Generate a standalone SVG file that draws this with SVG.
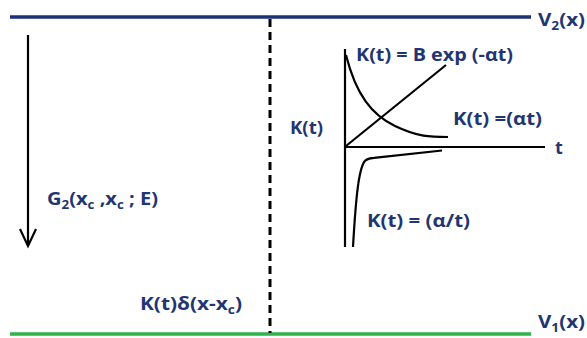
<svg xmlns="http://www.w3.org/2000/svg" width="587" height="338" viewBox="0 0 587 338">
<style>
text{font-family:"Open Sans",Lato,"Liberation Sans",sans-serif;font-weight:bold;fill:#1f3672;font-size:18px}
.sub{font-size:12px}
.k{fill:none;stroke:#000;stroke-width:2.2}
</style>
<rect width="587" height="338" fill="#fff"/>
<g id="v2">
<line x1="10" y1="17" x2="531" y2="17" stroke="#1c3178" stroke-width="3.5"/>
<text x="538" y="26" textLength="47" lengthAdjust="spacingAndGlyphs">V<tspan class="sub" dy="4">2</tspan><tspan dy="-4">(x)</tspan></text>
</g>
<g id="v1">
<line x1="10" y1="334" x2="531" y2="334" stroke="#2db54b" stroke-width="3.5"/>
<text x="538" y="328" textLength="47" lengthAdjust="spacingAndGlyphs">V<tspan class="sub" dy="4">1</tspan><tspan dy="-4">(x)</tspan></text>
</g>
<g id="connectors">
<line x1="270" y1="19" x2="270" y2="333" stroke="#000" stroke-width="3" stroke-dasharray="8,5"/>
<line x1="28" y1="35" x2="28" y2="246" class="k" stroke-width="3"/>
<polyline points="20,229 28,246 36,229" class="k" stroke-width="3"/>
</g>
<g id="labels">
<text x="47" y="205" textLength="111" lengthAdjust="spacingAndGlyphs">G<tspan class="sub" dy="4">2</tspan><tspan dy="-4">(x</tspan><tspan class="sub" dy="4">c</tspan><tspan dy="-4"> ,x</tspan><tspan class="sub" dy="4">c</tspan><tspan dy="-4"> ; E)</tspan></text>
<text x="140" y="310" textLength="102" lengthAdjust="spacingAndGlyphs">K(t)δ(x-x<tspan class="sub" dy="4">c</tspan><tspan dy="-4">)</tspan></text>
</g>
<g id="graph">
<line x1="345" y1="49" x2="345" y2="247" class="k"/>
<line x1="345" y1="147" x2="545" y2="147" class="k"/>
<line x1="346" y1="146" x2="446" y2="65" class="k"/>
<path d="M346,55 C356,95 372,115 395,126 S430,137 448,137" class="k"/>
<path d="M353,247 C356,195 359,165 366,160 C368,158.5 371,158 374,157.8 L442,150.5" class="k"/>
<text x="356" y="61" textLength="157" lengthAdjust="spacingAndGlyphs">K(t) = B exp (-αt)</text>
<text x="453" y="125" textLength="89" lengthAdjust="spacingAndGlyphs">K(t) =(αt)</text>
<text x="290" y="134" textLength="33" lengthAdjust="spacingAndGlyphs">K(t)</text>
<text x="555" y="154">t</text>
<text x="367" y="227" textLength="103" lengthAdjust="spacingAndGlyphs">K(t) = (α/t)</text>
</g>
</svg>
